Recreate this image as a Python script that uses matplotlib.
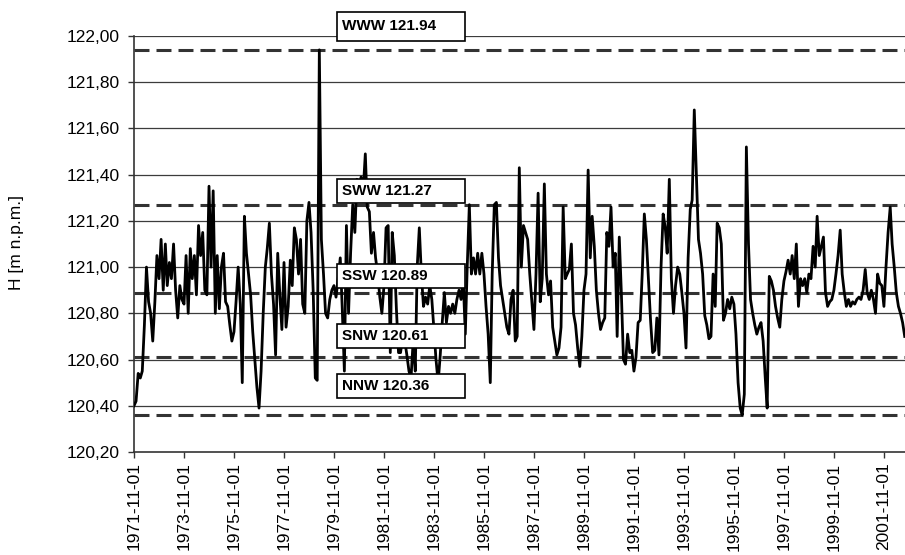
import matplotlib
matplotlib.use("Agg")
import matplotlib.pyplot as plt
import matplotlib.dates as mdates
from matplotlib.patches import Rectangle
from matplotlib.ticker import FuncFormatter, MultipleLocator
import pandas as pd

plt.rcParams['font.family'] = ['Liberation Sans', 'DejaVu Sans']

# monthly water levels [m n.p.m.], starting 1971-11
h = [
    120.40, 120.42, 120.54, 120.52, 120.55, 120.75, 121.00, 120.85, 120.80, 120.68, 120.85, 121.05,
    120.95, 121.12, 120.90, 121.10, 120.92, 121.02, 120.95, 121.10, 120.90, 120.78, 120.92, 120.86,
    120.84, 121.05, 120.80, 121.08, 120.95, 121.05, 120.88, 121.18, 121.05, 121.15, 120.90, 120.88,
    121.35, 121.00, 121.33, 120.80, 121.05, 120.82, 121.00, 121.06, 120.85, 120.83, 120.75, 120.68,
    120.72, 120.85, 121.00, 120.84, 120.50, 121.22, 121.06, 120.97, 120.88, 120.72, 120.60, 120.48,
    120.39, 120.55, 120.80, 121.00, 121.08, 121.19, 120.97, 120.84, 120.62, 121.06, 120.88, 120.73,
    121.02, 120.74, 120.83, 121.03, 120.92, 121.17, 121.12, 120.97, 121.12, 120.84, 120.80, 121.20,
    121.28, 121.15, 120.90, 120.52, 120.51, 121.94, 121.12, 120.97, 120.80, 120.78, 120.86, 120.90,
    120.92, 120.87, 120.95, 121.04, 120.82, 120.55, 121.18, 120.80, 121.06, 121.27, 121.15, 121.38,
    121.33, 121.39, 121.33, 121.49, 121.26, 121.24, 121.06, 121.15, 121.04, 120.97, 120.87, 120.80,
    120.92, 121.17, 121.18, 120.63, 121.15, 121.05, 120.82, 120.63, 120.63, 120.70, 120.68, 120.62,
    120.55, 120.52, 120.68, 120.55, 121.00, 121.17, 120.97, 120.83, 120.87, 120.84, 120.92, 120.86,
    120.73, 120.60, 120.50, 120.62, 120.76, 120.89, 120.76, 120.83, 120.80, 120.84, 120.80, 120.86,
    120.90, 120.86, 120.95, 120.71, 121.00, 121.27, 120.97, 121.04, 120.97, 121.06, 120.97, 121.06,
    120.97, 120.83, 120.71, 120.50, 120.97, 121.27, 121.28, 121.04, 120.92, 120.86, 120.80, 120.74,
    120.71, 120.86, 120.90, 120.68, 120.70, 121.43, 121.00, 121.18, 121.15, 121.12, 120.97, 120.85,
    120.73, 120.97, 121.32, 120.85, 120.95, 121.36, 120.97, 120.88, 120.94, 120.74, 120.68, 120.62,
    120.65, 120.74, 121.26, 120.95, 120.97, 120.99, 121.10, 120.80, 120.75, 120.65, 120.57, 120.70,
    120.90, 120.97, 121.42, 121.04, 121.22, 121.09, 120.90, 120.80, 120.73, 120.76, 120.78, 121.15,
    121.09, 121.26, 121.00, 121.06, 120.70, 121.13, 120.89, 120.60, 120.58, 120.71, 120.63, 120.64,
    120.55, 120.61, 120.76, 120.77, 120.97, 121.23, 121.12, 120.94, 120.77, 120.63, 120.64, 120.78,
    120.62, 121.00, 121.23, 121.17, 121.06, 121.38, 120.95, 120.80, 120.92, 121.00, 120.97, 120.89,
    120.80, 120.65, 121.04, 121.25, 121.29, 121.68, 121.41, 121.12, 121.06, 120.97, 120.79, 120.75,
    120.69, 120.70, 120.97, 120.83, 121.19, 121.17, 121.10, 120.77, 120.80, 120.86, 120.82, 120.87,
    120.84, 120.71, 120.50, 120.39, 120.36, 120.45, 121.52, 121.10, 120.86, 120.80, 120.75, 120.71,
    120.74, 120.76, 120.68, 120.52, 120.39, 120.96, 120.94, 120.90, 120.83, 120.78, 120.74, 120.86,
    120.94, 120.98, 121.03, 120.97, 121.05, 120.95, 121.10, 120.83, 120.95, 120.92, 120.95, 120.89,
    120.97, 120.95, 121.09, 121.00, 121.22, 121.05, 121.09, 121.13, 120.89, 120.83, 120.85, 120.86,
    120.90, 120.97, 121.05, 121.16, 120.97, 120.89, 120.83, 120.86, 120.83, 120.85, 120.84, 120.86,
    120.87, 120.86, 120.90, 120.99, 120.89, 120.86, 120.90, 120.86, 120.80, 120.97, 120.93, 120.92,
    120.83, 121.00, 121.15, 121.26, 121.10, 121.00, 120.89, 120.83, 120.80, 120.76, 120.70,
]
dates = pd.date_range('1971-11-01', periods=len(h), freq='MS')

level_names = ['WWW', 'SWW', 'SSW', 'SNW', 'NNW']
level_values = [121.94, 121.27, 120.89, 120.61, 120.36]
# box top/bottom in pixels from the top of the image
box_rows = [(12, 41), (179, 203), (264, 288), (324, 348), (374, 398)]

W, H = 905, 555
fig = plt.figure(figsize=(W / 100, H / 100), dpi=100)
ax = fig.add_axes([134 / W, 103 / H, 1 - 134 / W, (452 - 36) / H])

for y in [120.4, 120.6, 120.8, 121.0, 121.2, 121.4, 121.6, 121.8, 122.0]:
    ax.axhline(y, color='#3c3c3c', lw=0.9, zorder=1)

for v in level_values:
    ax.axhline(v, color='#333333', lw=2.2, dashes=(4.9, 2.3), zorder=2)

ax.plot(dates, h, color='black', lw=2.0, zorder=3)

ax.set_ylim(120.2, 122.0)
ax.set_xlim(pd.Timestamp('1971-11-01'), pd.Timestamp('2002-09-05'))
ax.yaxis.set_major_locator(MultipleLocator(0.2))
ax.yaxis.set_major_formatter(FuncFormatter(lambda v, p: f'{v:.2f}'.replace('.', ',')))

ticks = pd.date_range('1971-11-01', '2001-11-01', freq='24MS')
ax.set_xticks(ticks)
ax.set_xticklabels([t.strftime('%Y-%m-%d') for t in ticks], rotation=90, ha='center')
ax.tick_params(axis='x', length=4.5, width=1, pad=3, labelsize=12.5, color='#333333')
ax.tick_params(axis='y', length=4.5, width=1, pad=6, labelsize=12.5, color='#333333')

for s in ['top', 'right']:
    ax.spines[s].set_visible(False)
for s in ['left', 'bottom']:
    ax.spines[s].set_color('#333333')
    ax.spines[s].set_linewidth(1.2)

fig.text(17 / W, 1 - 243 / H, 'H [m n.p.m.]', rotation=90, ha='center', va='center', fontsize=12.5)

for name, v, (top, bot) in zip(level_names, level_values, box_rows):
    fig.add_artist(Rectangle((337 / W, 1 - bot / H), 128 / W, (bot - top) / H,
                             transform=fig.transFigure, fc='white', ec='black', lw=1.2, zorder=5))
    fig.text(342 / W, 1 - (top + bot) / 2 / H, f'{name} {v:.2f}', ha='left', va='center',
             fontsize=11, fontweight='bold', zorder=6)

fig.savefig('out.png', dpi=100)
